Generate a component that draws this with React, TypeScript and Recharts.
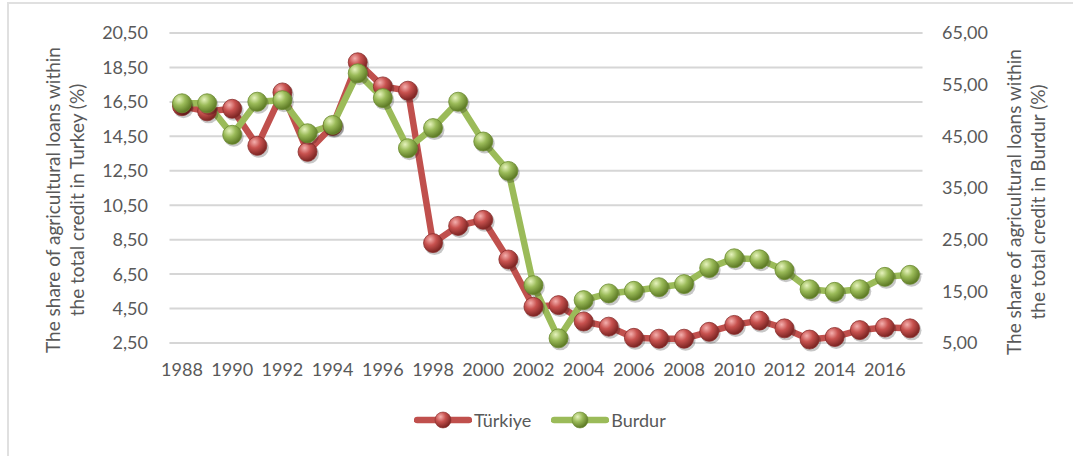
import React from 'react';
import { ComposedChart, Line, XAxis, YAxis, CartesianGrid, Legend } from 'recharts';

const years = ['1988','1989','1990','1991','1992','1993','1994','1995','1996','1997','1998','1999','2000','2001','2002','2003','2004','2005','2006','2007','2008','2009','2010','2011','2012','2013','2014','2015','2016','2017'];
const turkiye = [16.25, 15.95, 16.1, 13.95, 17.05, 13.6, 15.1, 18.8, 17.4, 17.15, 8.3, 9.3, 9.65, 7.35, 4.6, 4.7, 3.75, 3.45, 2.8, 2.75, 2.75, 3.15, 3.55, 3.8, 3.35, 2.7, 2.85, 3.25, 3.4, 3.35];
const burdur = [51.4, 51.4, 45.3, 51.7, 52.0, 45.6, 47.2, 57.2, 52.4, 42.7, 46.6, 51.7, 44.0, 38.3, 16.2, 5.9, 13.3, 14.6, 15.1, 15.8, 16.4, 19.5, 21.4, 21.2, 19.1, 15.4, 14.9, 15.4, 17.8, 18.2];
const leftTicks = [2.5, 4.5, 6.5, 8.5, 10.5, 12.5, 14.5, 16.5, 18.5, 20.5];
const rightTicks = [5, 15, 25, 35, 45, 55, 65];
const rightMinorTicks = [5,7,9,11,13,15,17,19,21,23,25,27,29,31,33,35,37,39,41,43,45,47,49,51,53,55,57,59,61,63,65];
const seriesNames = ['Türkiye', 'Burdur'];
const leftTitle = ['The share of agricultural loans within', 'the total credit in Turkey (%)'];
const rightTitle = ['The share of agricultural loans within', 'the total credit in Burdur (%)'];

const data = years.map((y, i) => ({ year: y, turkiye: turkiye[i], burdur: burdur[i] }));

const FONT = 'Lato, "Open Sans", sans-serif';
const TEXT = '#595959';
const RED = '#c0504d';
const GREEN = '#9bbb59';

const fmt = (v: number) => v.toFixed(2).replace('.', ',');

const Sphere = (props: any) => {
  const { cx, cy, grad, edge } = props;
  if (cx == null || cy == null) return null;
  return (
    <g>
      <circle cx={cx + 1.5} cy={cy + 2} r={10} fill="rgba(0,0,0,0.22)" />
      <circle cx={cx} cy={cy} r={9.5} fill={`url(#${grad})`} stroke={edge} strokeWidth={0.8} />
    </g>
  );
};

const AxisTitle = (props: any) => {
  const { lines, x1, x2, cy } = props;
  return (
    <g>
      <text x={x1} y={cy} transform={`rotate(-90, ${x1}, ${cy})`} textAnchor="middle" fill={TEXT} fontSize={19} fontFamily={FONT}>{lines[0]}</text>
      <text x={x2} y={cy} transform={`rotate(-90, ${x2}, ${cy})`} textAnchor="middle" fill={TEXT} fontSize={19} fontFamily={FONT}>{lines[1]}</text>
    </g>
  );
};

const LegendContent = () => (
  <div style={{ display: 'flex', alignItems: 'center', fontFamily: FONT, fontSize: 18, color: TEXT }}>
    <svg width={58} height={24}>
      <defs>
        <radialGradient id="lgRed" cx="35%" cy="30%" r="70%">
          <stop offset="0%" stopColor="#f4b0ae" />
          <stop offset="45%" stopColor="#c8524f" />
          <stop offset="100%" stopColor="#7d2523" />
        </radialGradient>
      </defs>
      <line x1={3} y1={12} x2={55} y2={12} stroke={RED} strokeWidth={6.5} strokeLinecap="round" />
      <circle cx={29} cy={12} r={8} fill="url(#lgRed)" stroke="#8a2f2d" strokeWidth={0.6} />
    </svg>
    <span style={{ marginLeft: 2 }}>{seriesNames[0]}</span>
    <svg width={58} height={24} style={{ marginLeft: 20 }}>
      <defs>
        <radialGradient id="lgGreen" cx="35%" cy="30%" r="70%">
          <stop offset="0%" stopColor="#e6f3bd" />
          <stop offset="45%" stopColor="#9bbb59" />
          <stop offset="100%" stopColor="#5d7a25" />
        </radialGradient>
      </defs>
      <line x1={3} y1={12} x2={55} y2={12} stroke={GREEN} strokeWidth={6.5} strokeLinecap="round" />
      <circle cx={29} cy={12} r={8} fill="url(#lgGreen)" stroke="#6b8a30" strokeWidth={0.6} />
    </svg>
    <span style={{ marginLeft: 2 }}>{seriesNames[1]}</span>
  </div>
);

export default function App() {
  return (
    <div style={{ position: 'absolute', left: 0, top: 0, width: 1073, height: 456, background: '#fff' }}>
      <div style={{ position: 'absolute', left: 7, top: 2, width: 1066, height: 454, borderLeft: '2px solid #e0e0e0', borderTop: '2px solid #e0e0e0', boxSizing: 'border-box' }} />
      <ComposedChart
        width={1073}
        height={456}
        data={data}
        margin={{ top: 33, right: 0.5, bottom: 83, left: 9.5 }}
        style={{ position: 'absolute', left: 0, top: 0 }}
      >
        <defs>
          <radialGradient id="gRed" cx="35%" cy="30%" r="70%">
            <stop offset="0%" stopColor="#f4b0ae" />
            <stop offset="45%" stopColor="#c8524f" />
            <stop offset="100%" stopColor="#7d2523" />
          </radialGradient>
          <radialGradient id="gGreen" cx="35%" cy="30%" r="70%">
            <stop offset="0%" stopColor="#e6f3bd" />
            <stop offset="45%" stopColor="#9bbb59" />
            <stop offset="100%" stopColor="#5d7a25" />
          </radialGradient>
        </defs>
        <CartesianGrid yAxisId="rminor" vertical={false} stroke="#ececec" strokeWidth={1.5} />
        <CartesianGrid yAxisId="left" vertical={false} stroke="#d6d6d6" strokeWidth={2} />
        <XAxis
          dataKey="year"
          interval={1}
          padding={{ left: 12.5, right: 12.5 }}
          tickLine={false}
          axisLine={false}
          tickSize={0}
          tickMargin={20}
          height={30}
          tick={{ fill: TEXT, fontSize: 18, fontFamily: FONT }}
        />
        <YAxis
          yAxisId="left"
          orientation="left"
          domain={[2.5, 20.5]}
          ticks={leftTicks}
          tickFormatter={fmt}
          width={160}
          tickLine={false}
          axisLine={false}
          tickSize={0}
          tickMargin={21.5}
          tick={{ fill: TEXT, fontSize: 18, fontFamily: FONT }}
          label={<AxisTitle lines={leftTitle} x1={60} x2={84} cy={200} />}
        />
        <YAxis
          yAxisId="right"
          orientation="right"
          domain={[5, 65]}
          ticks={rightTicks}
          tickFormatter={fmt}
          width={150}
          tickLine={false}
          axisLine={false}
          tickSize={0}
          tickMargin={19.5}
          tick={{ fill: TEXT, fontSize: 18, fontFamily: FONT, textAnchor: 'start' }}
          label={<AxisTitle lines={rightTitle} x1={1021} x2={1045} cy={202} />}
        />
        <YAxis yAxisId="rminor" orientation="right" domain={[5, 65]} ticks={rightMinorTicks} hide />
        <Line
          yAxisId="left"
          dataKey="turkiye"
          name={seriesNames[0]}
          stroke={RED}
          strokeWidth={6.5}
          strokeLinejoin="round"
          isAnimationActive={false}
          dot={(p: any) => <Sphere key={`t${p.index}`} {...p} grad="gRed" edge="#8a2f2d" />}
          activeDot={false}
        />
        <Line
          yAxisId="right"
          dataKey="burdur"
          name={seriesNames[1]}
          stroke={GREEN}
          strokeWidth={6.5}
          strokeLinejoin="round"
          isAnimationActive={false}
          dot={(p: any) => <Sphere key={`b${p.index}`} {...p} grad="gGreen" edge="#6b8a30" />}
          activeDot={false}
        />
        <Legend
          verticalAlign="middle"
          align="center"
          content={<LegendContent />}
          wrapperStyle={{ top: 408, left: 414, width: 300, height: 24 }}
        />
      </ComposedChart>
    </div>
  );
}
